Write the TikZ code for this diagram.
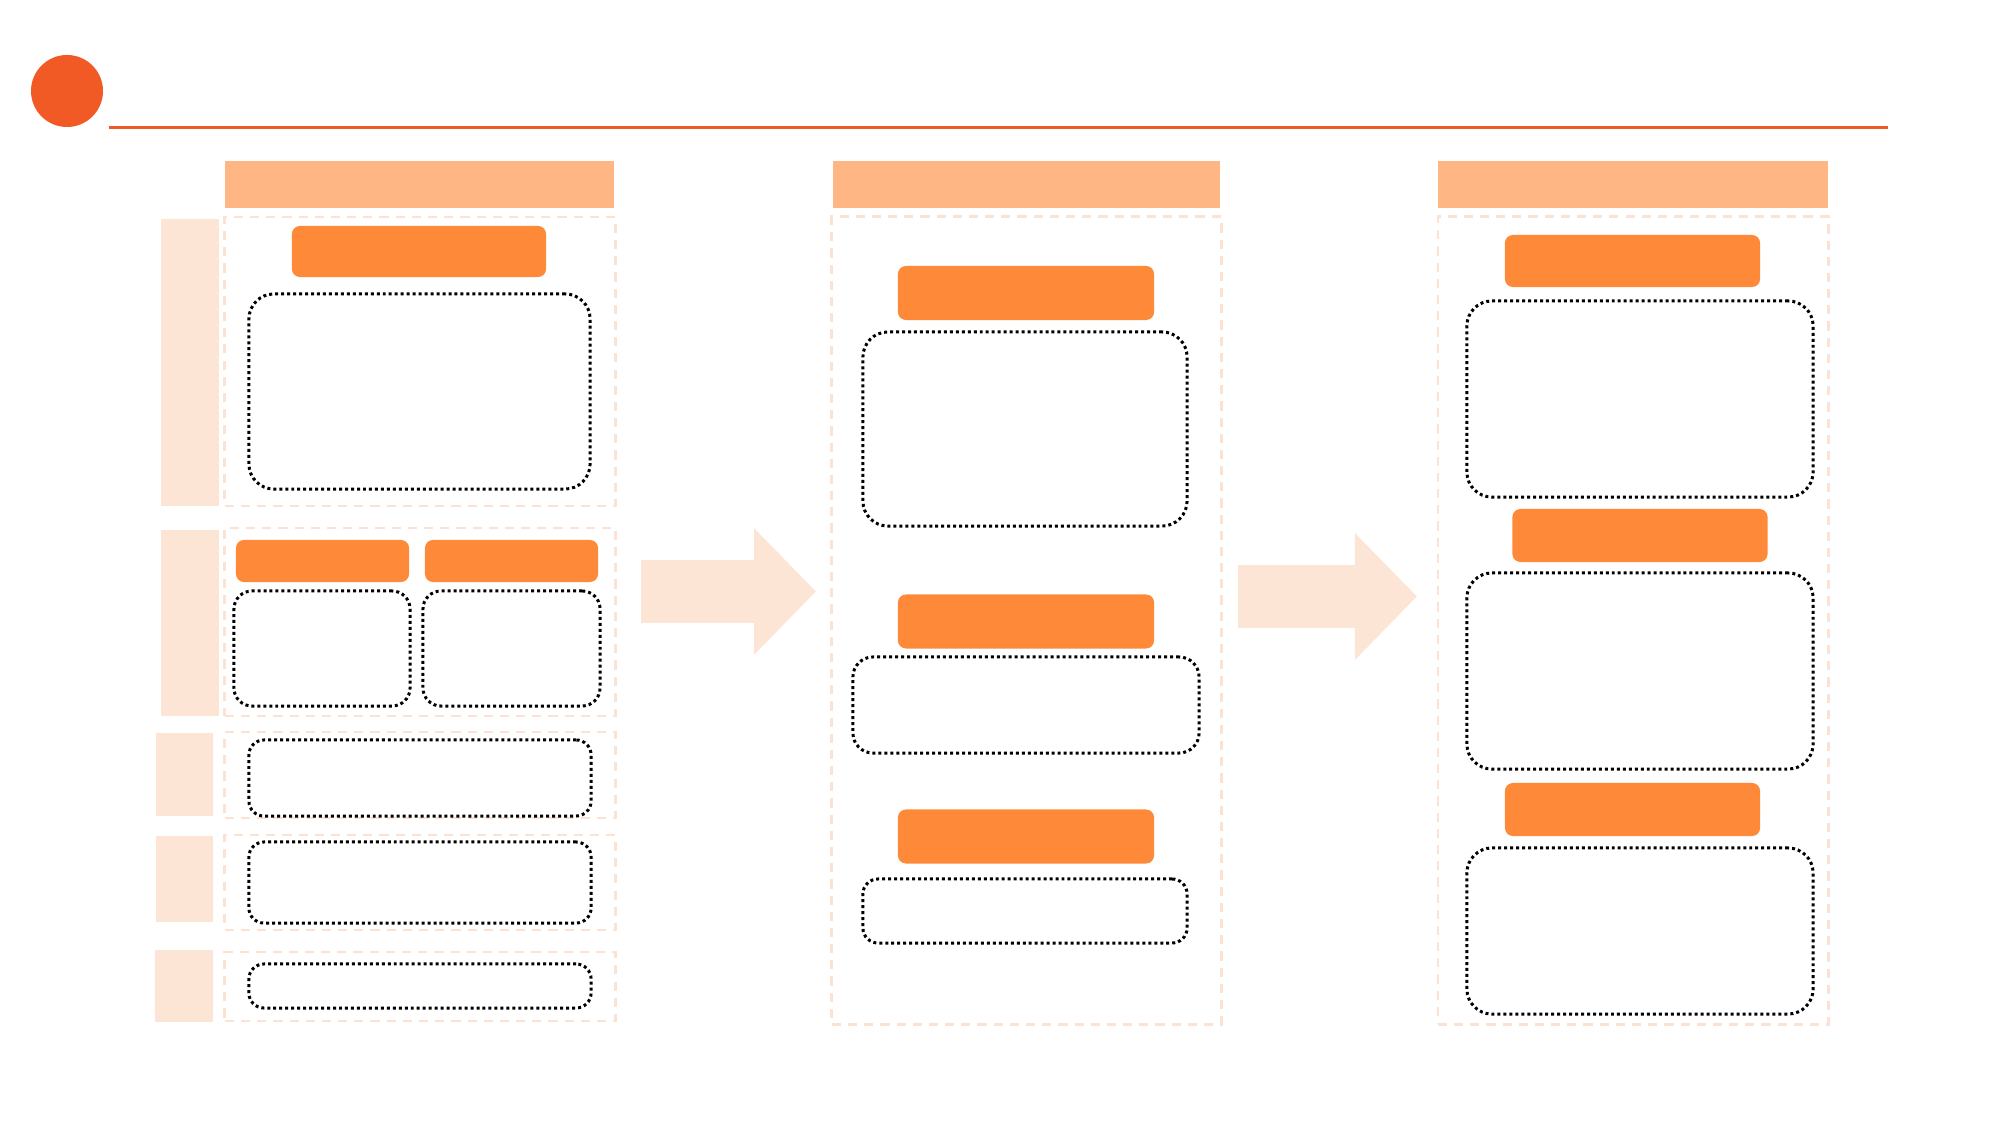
\documentclass[tikz,border=0pt]{standalone}
\usetikzlibrary{arrows.meta}
\definecolor{dotorange}{HTML}{F15A24}
\definecolor{ruleorange}{HTML}{EC5A2A}
\definecolor{headfill}{HTML}{FFB685}
\definecolor{tagfill}{HTML}{FD8939}
\definecolor{palefill}{HTML}{FDE5D6}
\definecolor{framecol}{HTML}{FBE2D2}
\begin{document}
\begin{tikzpicture}[x=0.01cm,y=-0.01cm,
    headbar/.style={fill=headfill,inner sep=0pt,minimum height=0.46cm},
    sidebar/.style={fill=palefill,inner sep=0pt},
    frame/.style={draw=framecol,line width=0.8pt,dash pattern=on 2.6pt off 2pt,inner sep=0pt},
    tag/.style={fill=tagfill,rounded corners=0.08cm,inner sep=0pt,minimum width=2.55cm,minimum height=0.53cm},
    slot/.style={draw=black,line width=0.85pt,dash pattern=on 0.85pt off 0.85pt,rounded corners=0.25cm,inner sep=0pt},
    flat/.style={slot,rounded corners=0.15cm},
    blockarrow/.style={palefill,line width=0.62cm,-{Triangle[length=0.62cm,width=1.23cm]}},
]
    \useasboundingbox (0,0) rectangle (2000,1125);
    %% title
    \node (dot) at (67,91) [circle,fill=dotorange,minimum size=0.72cm,inner sep=0pt] {};
    \coordinate (rulel) at (109,128);
    \coordinate (ruler) at (1888,128);
    \draw [ruleorange,line width=0.85pt] (rulel) -- (ruler);
    %% left column
    \node (head1) at (419.5,184.5) [headbar,minimum width=3.89cm] {};
    \node (s1a) at (190,362.5) [sidebar,minimum width=0.58cm,minimum height=2.87cm] {};
    \node (s1b) at (190,623) [sidebar,minimum width=0.58cm,minimum height=1.86cm] {};
    \node (s1c) at (184.5,774.5) [sidebar,minimum width=0.57cm,minimum height=0.83cm] {};
    \node (s1d) at (184.5,879) [sidebar,minimum width=0.57cm,minimum height=0.86cm] {};
    \node (s1e) at (184,986) [sidebar,minimum width=0.58cm,minimum height=0.72cm] {};
    \node (f1a) at (420,361.5) [frame,minimum width=3.9cm,minimum height=2.89cm] {};
    \node (f1b) at (420,622) [frame,minimum width=3.9cm,minimum height=1.88cm] {};
    \node (f1c) at (420,775) [frame,minimum width=3.9cm,minimum height=0.86cm] {};
    \node (f1d) at (420,882.5) [frame,minimum width=3.9cm,minimum height=0.95cm] {};
    \node (f1e) at (420,986.5) [frame,minimum width=3.9cm,minimum height=0.69cm] {};
    \node (t1a) at (419,251.5) [tag,minimum width=2.54cm,minimum height=0.51cm] {};
    \node (t1b) at (322.5,561) [tag,minimum width=1.73cm,minimum height=0.42cm] {};
    \node (t1c) at (511.5,561) [tag,minimum width=1.73cm,minimum height=0.42cm] {};
    \node (d1a) at (419.5,391.5) [slot,minimum width=3.41cm,minimum height=1.95cm] {};
    \node (d1b) at (322,648.5) [slot,rounded corners=0.18cm,minimum width=1.76cm,minimum height=1.15cm] {};
    \node (d1c) at (511.5,648.5) [slot,rounded corners=0.18cm,minimum width=1.77cm,minimum height=1.15cm] {};
    \node (d1d) at (420,778) [flat,minimum width=3.42cm,minimum height=0.76cm] {};
    \node (d1e) at (420,882.5) [flat,minimum width=3.42cm,minimum height=0.81cm] {};
    \node (d1f) at (420,986) [flat,minimum width=3.42cm,minimum height=0.44cm] {};
    %% middle column
    \node (head2) at (1026.5,184.5) [headbar,minimum width=3.87cm] {};
    \node (f2) at (1026.5,620.5) [frame,minimum width=3.89cm,minimum height=8.07cm] {};
    \node (t2a) at (1026,293) [tag,minimum width=2.56cm,minimum height=0.54cm] {};
    \node (d2a) at (1025,429) [slot,minimum width=3.24cm,minimum height=1.94cm] {};
    \node (t2b) at (1026,621.5) [tag,minimum width=2.56cm,minimum height=0.54cm] {};
    \node (d2b) at (1026,705) [slot,rounded corners=0.2cm,minimum width=3.46cm,minimum height=0.96cm] {};
    \node (t2c) at (1026,836.5) [tag,minimum width=2.56cm,minimum height=0.54cm] {};
    \node (d2c) at (1025,911) [flat,minimum width=3.24cm,minimum height=0.64cm] {};
    %% right column
    \node (head3) at (1633,184.5) [headbar,minimum width=3.9cm] {};
    \node (f3) at (1633,620.5) [frame,minimum width=3.9cm,minimum height=8.07cm] {};
    \node (t3a) at (1632.5,261) [tag,minimum height=0.52cm] {};
    \node (d3a) at (1640,399) [slot,minimum width=3.46cm,minimum height=1.96cm] {};
    \node (t3b) at (1640,535.5) [tag,minimum height=0.53cm] {};
    \node (d3b) at (1640,671) [slot,minimum width=3.46cm,minimum height=1.96cm] {};
    \node (t3c) at (1632.5,809.5) [tag,minimum height=0.53cm] {};
    \node (d3c) at (1640,931) [slot,minimum width=3.46cm,minimum height=1.66cm] {};
    %% arrows
    \coordinate (a1s) at (641,591.5);
    \coordinate (a1e) at (816,591.5);
    \coordinate (a2s) at (1238,596.5);
    \coordinate (a2e) at (1417,596.5);
    \draw [blockarrow] (a1s) -- (a1e);
    \draw [blockarrow] (a2s) -- (a2e);
    %
\end{tikzpicture}
\end{document}
